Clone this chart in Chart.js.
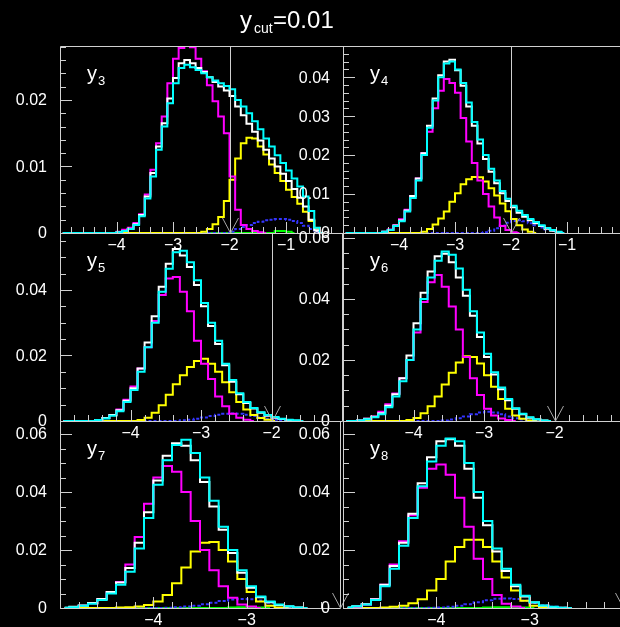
<!DOCTYPE html>
<html>
<head>
<meta charset="utf-8">
<script src="https://cdn.jsdelivr.net/npm/chart.js@4.4.1/dist/chart.umd.min.js"></script>
<style>
  html, body { margin: 0; padding: 0; background: #000; width: 620px; height: 627px; overflow: hidden; }
  canvas { position: absolute; left: 0; top: 0; }
</style>
</head>
<body>
<canvas id="p0" width="630" height="627"></canvas>
<canvas id="p1" width="630" height="627"></canvas>
<canvas id="p2" width="630" height="627"></canvas>
<canvas id="p3" width="630" height="627"></canvas>
<canvas id="p4" width="630" height="627"></canvas>
<canvas id="p5" width="630" height="627"></canvas>
<script>
// bin centres of log10(y_n), width 0.1
const bins = [
  -4.95, -4.85, -4.75, -4.65, -4.55, -4.45, -4.35, -4.25, -4.15, -4.05,
  -3.95, -3.85, -3.75, -3.65, -3.55, -3.45, -3.35, -3.25, -3.15, -3.05,
  -2.95, -2.85, -2.75, -2.65, -2.55, -2.45, -2.35, -2.25, -2.15, -2.05,
  -1.95, -1.85, -1.75, -1.65, -1.55, -1.45, -1.35, -1.25, -1.15, -1.05,
  -0.95, -0.85, -0.75, -0.65, -0.55, -0.45, -0.35, -0.25, -0.15, -0.05
];

// y3
const cyanY3 = [0,0,0,0,0,0,0,0,0,0,
  .0001,.0003,.0006,.0012,.0025,.0052,.0085,.0125,.0160,.0195,
  .0225,.0248,.0253,.0249,.0245,.0240,.0234,.0229,.0225,.0221,
  .0216,.0200,.0190,.0180,.0168,.0156,.0142,.0130,.0117,.0105,
  .0094,.0082,.0070,.0055,.0033,.0008,0];
const whiteY3 = [0,0,0,0,0,0,0,0,0,0,
  .0001,.0003,.0006,.0013,.0027,.0055,.0090,.0130,.0165,.0202,
  .0233,.0255,.0260,.0255,.0248,.0242,.0234,.0227,.0220,.0214,
  .0206,.0190,.0177,.0164,.0152,.0139,.0125,.0112,.0100,.0089,
  .0078,.0066,.0053,.0040,.0020,.0004,0];
const magentaY3 = [0,0,0,0,0,0,0,0,0,0,
  .0002,.0005,.0008,.0015,.0028,.0058,.0095,.0135,.0175,.0225,
  .0262,.0278,.0282,.0279,.0262,.0243,.0222,.0198,.0175,.0150,
  .0085,.0035,.0012,.0006,.0003,.0001,0];
const yellowY3 = [0,0,0,0,0,0,0,0,0,0,
  0,0,0,0,0,0,0,0,0,0,
  0,0,0,0,0,.0002,.0006,.0013,.0024,.0048,
  .0080,.0112,.0135,.0143,.0142,.0130,.0118,.0103,.0090,.0078,
  .0065,.0054,.0044,.0032,.0018,.0007,0];
const blueY3 = [0,0,0,0,0,0,0,0,0,0,
  0,0,0,0,0,0,0,0,0,0,
  0,0,0,0,0,0,0,0,0,0,
  .0002,.0006,.0009,.0012,.0015,.0017,.0019,.0020,.0021,.0021,
  .0020,.0018,.0015,.0011,.0006,.0002,0];
const greenY3 = [0,0,0,0,0,0,0,0,0,0,
  0,0,0,0,0,0,0,0,0,0,
  0,0,0,0,0,0,0,0,0,0,
  0,0,0,0,0,0,0,0,.0003,.0003,
  .0002,0];

// y4
const cyanY4 = [0,0,0,0,0,0,0,.0003,.0008,.0018,
  .0030,.0055,.0090,.0135,.0200,.0270,.0340,.0400,.0435,.0440,
  .0420,.0385,.0335,.0285,.0240,.0200,.0165,.0135,.0108,.0088,
  .0070,.0057,.0046,.0036,.0028,.0020,.0013,.0008,.0003,0];
const whiteY4 = [0,0,0,0,0,0,0,.0003,.0008,.0019,
  .0032,.0058,.0095,.0140,.0205,.0275,.0345,.0405,.0440,.0445,
  .0418,.0378,.0325,.0275,.0230,.0190,.0157,.0128,.0102,.0082,
  .0066,.0052,.0042,.0033,.0025,.0018,.0011,.0006,.0002,0];
const magentaY4 = [0,0,0,0,0,0,0,.0003,.0009,.0020,
  .0035,.0060,.0095,.0140,.0205,.0260,.0320,.0365,.0395,.0385,
  .0360,.0295,.0235,.0180,.0135,.0100,.0068,.0040,.0018,.0008,
  .0002,0];
const yellowY4 = [0,0,0,0,0,0,0,0,0,0,
  0,0,0,0,.0003,.0010,.0022,.0037,.0055,.0080,
  .0102,.0125,.0138,.0144,.0143,.0132,.0115,.0096,.0076,.0056,
  .0036,.0020,.0009,.0003,0];
const blueY4 = [0,0,0,0,0,0,0,0,0,0,
  0,0,0,0,0,0,0,0,0,0,
  0,0,0,0,0,.0002,.0006,.0012,.0019,.0026,
  .0031,.0033,.0030,.0025,.0020,.0014,.0009,.0005,.0002,0];

// y5
const cyanY5 = [0,0,0,0,0,.0003,.0008,.0016,.0030,.0058,
  .0095,.0150,.0225,.0300,.0395,.0465,.0515,.0520,.0485,.0430,
  .0360,.0300,.0245,.0175,.0125,.0085,.0058,.0040,.0027,.0018,
  .0012,.0007,.0004,.0002,0];
const whiteY5 = [0,0,0,0,0,.0003,.0009,.0018,.0033,.0062,
  .0100,.0160,.0240,.0320,.0410,.0480,.0525,.0505,.0470,.0415,
  .0350,.0290,.0235,.0170,.0120,.0082,.0055,.0038,.0025,.0016,
  .0010,.0006,.0003,.0001,0];
const magentaY5 = [0,0,0,0,0,.0003,.0009,.0018,.0035,.0065,
  .0105,.0160,.0225,.0305,.0385,.0435,.0440,.0395,.0335,.0245,
  .0175,.0128,.0075,.0045,.0022,.0010,.0004,0];
const yellowY5 = [0,0,0,0,0,0,0,0,0,0,
  0,.0003,.0010,.0025,.0048,.0080,.0112,.0140,.0165,.0183,
  .0190,.0175,.0150,.0118,.0088,.0058,.0035,.0018,.0009,.0004,
  0];
const blueY5 = [0,0,0,0,0,0,0,0,0,0,
  0,0,0,0,0,0,0,.0002,.0004,.0007,
  .0011,.0015,.0019,.0022,.0023,.0022,.0019,.0015,.0011,.0007,
  .0004,.0002,0];

// y6
const cyanY6 = [0,0,.0002,.0006,.0012,.0022,.0045,.0080,.0130,.0200,
  .0300,.0400,.0470,.0525,.0555,.0545,.0500,.0430,.0360,.0290,
  .0220,.0160,.0110,.0072,.0042,.0024,.0012,.0006,.0002,0];
const whiteY6 = [0,0,.0002,.0007,.0014,.0025,.0050,.0088,.0140,.0215,
  .0320,.0420,.0490,.0540,.0548,.0520,.0470,.0410,.0345,.0275,
  .0210,.0152,.0104,.0068,.0040,.0022,.0011,.0005,.0002,0];
const magentaY6 = [0,0,.0002,.0007,.0015,.0030,.0055,.0090,.0140,.0200,
  .0290,.0390,.0455,.0478,.0440,.0375,.0300,.0210,.0140,.0085,
  .0040,.0018,.0008,.0003,0];
const yellowY6 = [0,0,0,0,0,0,0,0,0,.0003,
  .0010,.0025,.0048,.0080,.0120,.0158,.0192,.0212,.0210,.0188,
  .0150,.0112,.0072,.0040,.0018,.0007,.0002,0];
const blueY6 = [0,0,0,0,0,0,0,0,0,0,
  0,0,0,0,.0002,.0005,.0009,.0015,.0022,.0028,
  .0030,.0028,.0022,.0015,.0009,.0005,.0002,0];

// y7
const cyanY7 = [.0001,.0003,.0008,.0015,.0028,.0050,.0080,.0125,.0205,.0310,
  .0425,.0510,.0562,.0580,.0535,.0450,.0370,.0280,.0200,.0130,
  .0075,.0040,.0022,.0012,.0006,.0002,0];
const whiteY7 = [.0001,.0004,.0009,.0017,.0031,.0055,.0088,.0138,.0225,.0330,
  .0440,.0525,.0568,.0560,.0510,.0435,.0350,.0270,.0190,.0122,
  .0070,.0037,.0020,.0010,.0005,.0002,0];
const magentaY7 = [0,.0003,.0008,.0016,.0030,.0055,.0090,.0150,.0245,.0360,
  .0450,.0490,.0470,.0400,.0300,.0200,.0130,.0075,.0035,.0012,
  .0005,0];
const yellowY7 = [0,0,0,0,0,0,.0002,.0003,.0005,.0010,
  .0022,.0045,.0085,.0140,.0195,.0225,.0228,.0200,.0160,.0100,
  .0055,.0022,.0008,.0002,0];
const blueY7 = [0,0,0,0,0,0,0,0,0,0,
  0,.0001,.0003,.0005,.0008,.0013,.0018,.0024,.0029,.0031,
  .0030,.0026,.0018,.0010,.0004,.0001,0];
const greenY7 = [0,0,0,0,0,0,0,0,0,0,
  0,0,0,0,0,0,0,0,.0002,.0003,
  .0003,.0002,0];

// y8
const cyanY8 = [.0002,.0006,.0012,.0028,.0075,.0135,.0215,.0310,.0420,.0505,
  .0560,.0585,.0575,.0500,.0400,.0300,.0205,.0135,.0080,.0042,
  .0020,.0009,.0004,.0001,0];
const whiteY8 = [.0002,.0006,.0013,.0030,.0080,.0145,.0225,.0325,.0430,.0520,
  .0575,.0582,.0560,.0480,.0380,.0285,.0195,.0128,.0075,.0040,
  .0019,.0008,.0003,.0001,0];
const magentaY8 = [0,.0004,.0012,.0030,.0080,.0150,.0230,.0320,.0415,.0480,
  .0495,.0460,.0380,.0280,.0170,.0100,.0045,.0015,.0005,0];
const yellowY8 = [0,0,0,0,.0002,.0004,.0008,.0016,.0030,.0060,
  .0100,.0160,.0210,.0235,.0235,.0210,.0160,.0105,.0060,.0025,
  .0008,.0002,0];
const blueY8 = [0,0,0,0,0,0,0,0,0,.0001,
  .0002,.0004,.0008,.0013,.0020,.0027,.0032,.0033,.0031,.0025,
  .0017,.0009,.0004,.0001,0];
const greenY8 = [0,0,0,0,0,0,0,0,0,0,
  0,0,0,0,0,.0002,.0003,.0003,.0003,.0002,
  0];

const yCut = -2; // log10(0.01)

const panels = [
  { name: "3", box: [60, 46, 342.5, 233], xMin: -5, xMax: 0, yMax: 0.0281, yMinor: 0.002, yEvery: 5,
    series: [cyanY3, whiteY3, magentaY3, yellowY3, blueY3, greenY3] },
  { name: "4", box: [343, 46, 623, 233], xMin: -5, xMax: 0, yMax: 0.048, yMinor: 0.002, yEvery: 5,
    series: [cyanY4, whiteY4, magentaY4, yellowY4, blueY4, null] },
  { name: "5", box: [60, 233, 342, 421], xMin: -5, xMax: -1, yMax: 0.0574, yMinor: 0.005, yEvery: 4,
    series: [cyanY5, whiteY5, magentaY5, yellowY5, blueY5, null] },
  { name: "6", box: [343, 233, 625, 421], xMin: -5, xMax: -1, yMax: 0.0616, yMinor: 0.005, yEvery: 4,
    series: [cyanY6, whiteY6, magentaY6, yellowY6, blueY6, null] },
  { name: "7", box: [60, 421, 340, 608], xMin: -5, xMax: -2, yMax: 0.0645, yMinor: 0.005, yEvery: 4,
    series: [cyanY7, whiteY7, magentaY7, yellowY7, blueY7, greenY7] },
  { name: "8", box: [343, 421, 623, 608], xMin: -5, xMax: -2, yMax: 0.0645, yMinor: 0.005, yEvery: 4,
    series: [cyanY8, whiteY8, magentaY8, yellowY8, blueY8, greenY8] },
];

const colours = ["#00ffff", "#ffffff", "#ff00ff", "#ffff00", "#3535ff", "#00ff00"];
const axisColour = "#d0d0d0";
const font = '"Liberation Sans", Arial, sans-serif';

// ROOT-like frame: ticks inside, labels outside, cut line and arrow
const rootFrame = {
  id: "rootFrame",
  afterDatasetsDraw(chart, args, opts) {
    const p = opts.panel;
    const ctx = chart.ctx;
    const a = chart.chartArea;
    const xs = chart.scales.x;
    const ys = chart.scales.y;
    ctx.save();
    ctx.strokeStyle = axisColour;
    ctx.lineWidth = 1;
    ctx.beginPath();
    ctx.rect(Math.round(a.left) + 0.5, Math.round(a.top) + 0.5,
      Math.round(a.right - a.left), Math.round(a.bottom - a.top));
    ctx.stroke();

    ctx.fillStyle = "#ffffff";
    ctx.font = "16px " + font;

    // x axis
    const nx = Math.round((p.xMax - p.xMin) / 0.2);
    ctx.beginPath();
    for (let k = 0; k <= nx; k++) {
      const v = p.xMin + k * 0.2;
      const px = Math.round(xs.getPixelForValue(v)) + 0.5;
      const len = k % 5 === 0 ? 11 : 6;
      ctx.moveTo(px, a.bottom);
      ctx.lineTo(px, a.bottom - len);
    }
    ctx.stroke();
    ctx.textAlign = "center";
    ctx.textBaseline = "middle";
    for (let v = Math.ceil(p.xMin) + 1; v < p.xMax; v++) {
      ctx.fillText("\u2212" + Math.abs(v), xs.getPixelForValue(v), a.bottom + 13);
    }

    // y axis
    const ny = Math.floor(p.yMax / p.yMinor + 1e-6);
    ctx.beginPath();
    for (let k = 0; k <= ny; k++) {
      const py = Math.round(ys.getPixelForValue(k * p.yMinor)) + 0.5;
      const len = k % p.yEvery === 0 ? 12 : 6;
      ctx.moveTo(a.left, py);
      ctx.lineTo(a.left + len, py);
    }
    ctx.stroke();
    ctx.textAlign = "right";
    for (let k = 0; k <= ny; k += p.yEvery) {
      const v = k * p.yMinor;
      const txt = k === 0 ? "0" : v.toFixed(2);
      ctx.fillText(txt, a.left - 13, ys.getPixelForValue(v) + 1);
    }

    // cut line and arrow at log10(y_cut)
    const cx = Math.round(xs.getPixelForValue(yCut)) + 0.5;
    if (cx < a.right - 3) {
      ctx.beginPath();
      ctx.moveTo(cx, a.top);
      ctx.lineTo(cx, a.bottom);
      ctx.stroke();
    }
    ctx.strokeStyle = "#a8a8a8";
    ctx.beginPath();
    ctx.moveTo(cx - 8, a.bottom - 15);
    ctx.lineTo(cx, a.bottom);
    ctx.lineTo(cx + 8, a.bottom - 15);
    ctx.stroke();

    // panel label y_n
    ctx.textAlign = "left";
    ctx.textBaseline = "alphabetic";
    ctx.font = "20px " + font;
    ctx.fillText("y", a.left + 27, a.top + 34);
    ctx.font = "13px " + font;
    ctx.fillText(p.name, a.left + 38, a.top + 39);

    if (opts.title) {
      ctx.font = "24px " + font;
      ctx.fillText("y", 240, 28);
      ctx.font = "14px " + font;
      ctx.fillText("cut", 254, 33);
      ctx.font = "24px " + font;
      ctx.fillText("=0.01", 273, 28);
    }
    ctx.restore();
  },
};

panels.forEach((p, i) => {
  const canvas = document.getElementById("p" + i);
  const W = canvas.width;
  const H = canvas.height;
  const datasets = [];
  p.series.forEach((values, j) => {
    if (!values) return;
    datasets.push({
      data: values,
      borderColor: colours[j],
      borderWidth: 2,
      borderDash: j === 4 ? [3, 2] : [],
      stepped: "middle",
      fill: false,
      pointRadius: 0,
    });
  });
  new Chart(canvas, {
    type: "line",
    data: { labels: bins, datasets: datasets },
    options: {
      responsive: false,
      animation: false,
      events: [],
      layout: {
        padding: { left: p.box[0], top: p.box[1], right: W - p.box[2], bottom: H - p.box[3] },
      },
      scales: {
        x: { type: "linear", min: p.xMin, max: p.xMax, display: false },
        y: { type: "linear", min: 0, max: p.yMax, display: false },
      },
      plugins: {
        legend: { display: false },
        tooltip: { enabled: false },
        rootFrame: { panel: p, title: i === 0 },
      },
    },
    plugins: [rootFrame],
  });
});
</script>
</body>
</html>
